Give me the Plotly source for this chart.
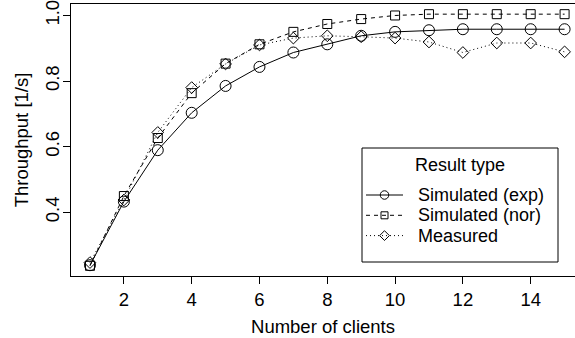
import plotly.graph_objects as go

# Throughput per number of clients
clients = list(range(1, 16))
sim_exp = [0.238, 0.432, 0.589, 0.703, 0.785, 0.843, 0.887, 0.912, 0.938,
           0.950, 0.955, 0.958, 0.958, 0.958, 0.958]
sim_nor = [0.236, 0.449, 0.626, 0.763, 0.853, 0.912, 0.950, 0.974, 0.989,
           1.000, 1.004, 1.004, 1.004, 1.004, 1.004]
measured = [0.246, 0.437, 0.643, 0.780, 0.852, 0.910, 0.931, 0.938, 0.935,
            0.931, 0.919, 0.887, 0.916, 0.916, 0.889]

series_names = ["Simulated (exp)", "Simulated (nor)", "Measured"]
x_ticks = [2, 4, 6, 8, 10, 12, 14]
y_ticks = [0.4, 0.6, 0.8, 1.0]
y_tick_text = ["0.4", "0.6", "0.8", "1.0"]

FONT = "Liberation Sans, Arial, Helvetica, sans-serif"
FS = 18.5
LEG_FS = 18
W, H = 575, 338
ML, MR, MT, MB = 71, 0, 4, 62

styles = [
    dict(dash="solid", symbol="circle-open", size=11, leg_size=8.5),
    dict(dash="4px,4px", symbol="square-open", size=9, leg_size=7),
    dict(dash="1px,3px", symbol="diamond-open", size=9, leg_size=7.5),
]

fig = go.Figure()
for name, ys, st in zip(series_names, [sim_exp, sim_nor, measured], styles):
    fig.add_trace(go.Scatter(
        x=clients, y=ys, name=name, mode="lines+markers",
        line=dict(color="black", width=1, dash=st["dash"]),
        marker=dict(symbol=st["symbol"], size=st["size"], color="black",
                    line=dict(color="black", width=1)),
        showlegend=False, cliponaxis=False,
    ))

# pixel helpers for the legend box (relative to the plotting area)
PW, PH = W - ML - MR, H - MT - MB


def px(xp):
    return (xp - ML) / PW


def py(yp):
    return 1 - (yp - MT) / PH


shapes = [dict(type="rect", xref="paper", yref="paper",
               x0=px(362), x1=px(558), y0=py(148), y1=py(262),
               line=dict(color="black", width=1), fillcolor="white",
               layer="below")]
annotations = [dict(text="Result type", xref="paper", yref="paper",
                    x=px(460), y=py(165), showarrow=False,
                    xanchor="center", yanchor="middle",
                    font=dict(family=FONT, size=LEG_FS, color="black"))]

row_y = [195, 215.3, 235.6]
for name, st, ry in zip(series_names, styles, row_y):
    shapes.append(dict(type="line", xref="paper", yref="paper",
                       x0=px(366), x1=px(403), y0=py(ry), y1=py(ry),
                       line=dict(color="black", width=1, dash=st["dash"]),
                       layer="below"))
    annotations.append(dict(text=name, xref="paper", yref="paper",
                            x=px(416), y=py(ry), showarrow=False,
                            xanchor="left", yanchor="middle",
                            font=dict(family=FONT, size=LEG_FS, color="black")))

# legend glyphs on a pixel-space overlay axis
for st, ry in zip(styles, row_y):
    fig.add_trace(go.Scatter(
        x=[384.5], y=[ry], xaxis="x2", yaxis="y2", mode="markers",
        marker=dict(symbol=st["symbol"], size=st["leg_size"], color="black",
                    line=dict(color="black", width=1)),
        showlegend=False, hoverinfo="skip",
    ))

fig.update_layout(
    width=W, height=H,
    margin=dict(l=ML, r=MR, t=MT, b=MB, pad=0),
    paper_bgcolor="white", plot_bgcolor="white",
    font=dict(family=FONT, size=FS, color="black"),
    showlegend=False,
    shapes=shapes, annotations=annotations,
    xaxis=dict(
        range=[0.44, 0.44 + PW / 33.9], tickvals=x_ticks,
        ticks="outside", ticklen=7, tickwidth=1, tickcolor="black",
        showline=True, linecolor="black", linewidth=1, mirror=True,
        showgrid=False, zeroline=False,
        title=dict(text="Number of clients", standoff=10,
                   font=dict(family=FONT, size=FS)),
        tickfont=dict(family=FONT, size=FS),
    ),
    yaxis=dict(
        range=[0.205, 1.035], tickvals=y_ticks, ticktext=y_tick_text,
        ticks="outside", ticklen=7, tickwidth=1, tickcolor="black",
        tickangle=-90, ticklabeloverflow="allow", ticklabelstandoff=-3,
        showline=True, linecolor="black", linewidth=1, mirror=False,
        showgrid=False, zeroline=False,
        title=dict(text="Throughput [1/s]", standoff=8,
                   font=dict(family=FONT, size=FS)),
        tickfont=dict(family=FONT, size=FS),
    ),
    xaxis2=dict(range=[ML, W - MR], overlaying="x", visible=False,
                fixedrange=True),
    yaxis2=dict(range=[H - MB, MT], overlaying="y", visible=False,
                fixedrange=True),
)

fig.write_html("out.html")
